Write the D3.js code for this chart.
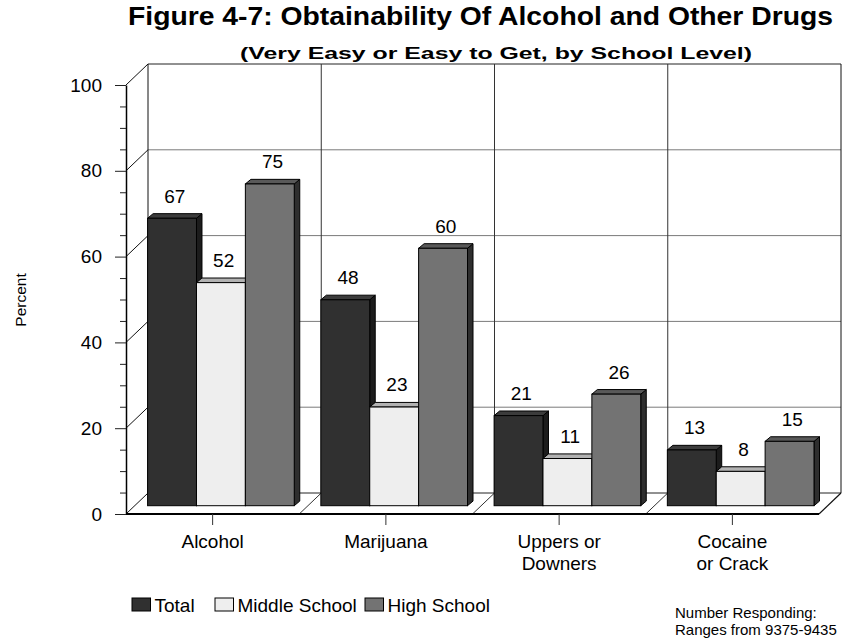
<!DOCTYPE html>
<html>
<head>
<meta charset="utf-8">
<script src="https://cdn.jsdelivr.net/npm/d3@7"></script>
<style>
  html, body { margin: 0; padding: 0; background: #fff; }
  svg { display: block; font-family: "Liberation Sans", Arial, sans-serif; }
</style>
</head>
<body>
<svg id="chart" width="846" height="639"></svg>
<script>
// ---- data ----
const categories = ["Alcohol", "Marijuana", "Uppers or\nDowners", "Cocaine\nor Crack"];
const seriesNames = ["Total", "Middle School", "High School"];
const totalValues = [67, 48, 21, 13];
const middleValues = [52, 23, 11, 8];
const highValues = [75, 60, 26, 15];
const yTicks = [0, 20, 40, 60, 80, 100];

const seriesValues = [totalValues, middleValues, highValues];

// ---- styling ----
const faceColors = [
  { front: "#303030", top: "#3c3c3c", side: "#1c1c1c" },
  { front: "#eeeeee", top: "#b2b2b2", side: "#9a9a9a" },
  { front: "#737373", top: "#595959", side: "#2e2e2e" }
];

const svg = d3.select("#chart");

// front plane of the 3D box
const x0 = 126, x1 = 819;
const yBase = 514, yTop = 85;
const depth = { dx: 22, dy: -21 };        // back wall offset
const barPlane = { dx: 8.3, dy: -8.3 };   // plane where bar fronts sit
const barDepth = { dx: 5.5, dy: -4.6 };   // bar thickness

const y = d3.scaleLinear().domain([0, 100]).range([yBase, yTop]);
const x = d3.scaleBand().domain(categories).range([x0, x1]).padding(0);

const g = svg.append("g");

// ---- floor ----
g.append("path")
  .attr("d", `M${x0},${yBase} L${x1},${yBase} L${x1 + depth.dx},${yBase + depth.dy} L${x0 + depth.dx},${yBase + depth.dy} Z`)
  .attr("fill", "#fff").attr("stroke", "none");

// floor diagonals at category boundaries
categories.forEach((c, i) => {
  if (i === 0) return;
  const bx = x(c);
  g.append("line")
    .attr("x1", bx).attr("y1", yBase)
    .attr("x2", bx + depth.dx).attr("y2", yBase + depth.dy)
    .attr("stroke", "#333").attr("stroke-width", 1);
});

// back wall horizontal grid
yTicks.forEach(t => {
  g.append("line")
    .attr("x1", x0 + depth.dx).attr("x2", x1 + depth.dx)
    .attr("y1", y(t) + depth.dy).attr("y2", y(t) + depth.dy)
    .attr("stroke", t === 0 || t === 100 ? "#222" : "#7a7a7a").attr("stroke-width", 1);
  // diagonal from axis to wall
  g.append("line")
    .attr("x1", x0).attr("y1", y(t))
    .attr("x2", x0 + depth.dx).attr("y2", y(t) + depth.dy)
    .attr("stroke", "#111").attr("stroke-width", 1);
});

// back wall vertical grid and outline
categories.concat([null]).forEach((c, i) => {
  const bx = (c === null ? x1 : x(c)) + depth.dx;
  g.append("line")
    .attr("x1", bx).attr("x2", bx)
    .attr("y1", y(100) + depth.dy).attr("y2", y(0) + depth.dy)
    .attr("stroke", i === 0 || c === null ? "#111" : "#333").attr("stroke-width", 1);
});

// right floor edge
g.append("line")
  .attr("x1", x1).attr("y1", yBase)
  .attr("x2", x1 + depth.dx).attr("y2", yBase + depth.dy)
  .attr("stroke", "#111").attr("stroke-width", 1.2);

// ---- bars ----
const inner = d3.scaleBand().domain(seriesNames).paddingOuter(0).paddingInner(0);

categories.forEach((c, ci) => {
  const bandStart = x(c) + barPlane.dx;
  const pad = 13.3;
  inner.range([bandStart + pad, bandStart + x.bandwidth() - pad]);
  seriesNames.forEach((s, si) => {
    const v = seriesValues[si][ci];
    const bx = inner(s);
    const bw = inner.bandwidth();
    const by = y(v) + barPlane.dy;
    const bb = y(0) + barPlane.dy;
    const col = faceColors[si];
    const bar = g.append("g");
    // side face
    bar.append("path")
      .attr("d", `M${bx + bw},${bb} L${bx + bw + barDepth.dx},${bb + barDepth.dy} L${bx + bw + barDepth.dx},${by + barDepth.dy} L${bx + bw},${by} Z`)
      .attr("fill", col.side).attr("stroke", "#000").attr("stroke-width", 1).attr("stroke-linejoin", "round");
    // top face
    bar.append("path")
      .attr("d", `M${bx},${by} L${bx + barDepth.dx},${by + barDepth.dy} L${bx + bw + barDepth.dx},${by + barDepth.dy} L${bx + bw},${by} Z`)
      .attr("fill", col.top).attr("stroke", "#000").attr("stroke-width", 1).attr("stroke-linejoin", "round");
    // front face
    bar.append("rect")
      .attr("x", bx).attr("y", by).attr("width", bw).attr("height", bb - by)
      .attr("fill", col.front).attr("stroke", "#000").attr("stroke-width", 1);
    // value label
    g.append("text")
      .attr("x", bx + bw / 2 + barDepth.dx / 2)
      .attr("y", by + barDepth.dy - 11)
      .attr("text-anchor", "middle")
      .attr("font-size", 19)
      .attr("fill", "#000")
      .text(v);
  });
});

// ---- front floor edge and y axis ----
g.append("line")
  .attr("x1", x0).attr("x2", x1).attr("y1", yBase).attr("y2", yBase)
  .attr("stroke", "#000").attr("stroke-width", 2);

const yAxis = d3.axisLeft(y)
  .tickValues(d3.range(0, 101, 5))
  .tickSizeOuter(0)
  .tickFormat(d => yTicks.includes(d) ? d : "");
const ya = svg.append("g").attr("transform", `translate(${x0},0)`).call(yAxis);
ya.select(".domain").attr("stroke", "#000").attr("stroke-width", 1.5);
ya.selectAll(".tick line")
  .attr("x2", d => yTicks.includes(d) ? -11 : -6)
  .attr("stroke", "#222");
ya.selectAll(".tick text")
  .attr("x", -24)
  .attr("font-size", 19)
  .attr("font-family", "Liberation Sans, Arial, sans-serif")
  .attr("fill", "#000");

// category ticks and labels
const xa = svg.append("g");
categories.forEach(c => {
  const cx = x(c) + x.bandwidth() / 2;
  xa.append("line")
    .attr("x1", cx).attr("x2", cx).attr("y1", yBase).attr("y2", yBase + 11)
    .attr("stroke", "#333").attr("stroke-width", 1);
  const t = xa.append("text")
    .attr("x", cx).attr("y", 548)
    .attr("text-anchor", "middle")
    .attr("font-size", 19).attr("fill", "#000");
  c.split("\n").forEach((line, li) => {
    t.append("tspan").attr("x", cx).attr("dy", li === 0 ? 0 : 21.5).text(line);
  });
});

// y axis title
svg.append("text")
  .attr("transform", "translate(26,300) rotate(-90)")
  .attr("text-anchor", "middle")
  .attr("font-size", 15.5).attr("fill", "#000")
  .text("Percent");

// ---- titles ----
svg.append("text")
  .attr("x", 128).attr("y", 25)
  .attr("font-size", 25.5).attr("font-weight", "bold").attr("fill", "#000")
  .attr("textLength", 705).attr("lengthAdjust", "spacingAndGlyphs")
  .text("Figure 4-7: Obtainability Of Alcohol and Other Drugs");

svg.append("text")
  .attr("x", 240).attr("y", 59)
  .attr("font-size", 16.3).attr("font-weight", "bold").attr("fill", "#000")
  .attr("textLength", 512).attr("lengthAdjust", "spacingAndGlyphs")
  .text("(Very Easy or Easy to Get, by School Level)");

// ---- legend ----
const legendX = [132, 215, 365];
const legend = svg.append("g");
seriesNames.forEach((s, i) => {
  legend.append("rect")
    .attr("x", legendX[i]).attr("y", 598).attr("width", 18.5).attr("height", 13)
    .attr("fill", faceColors[i].front).attr("stroke", "#000").attr("stroke-width", 1);
  legend.append("text")
    .attr("x", legendX[i] + 22.5).attr("y", 611.5)
    .attr("font-size", 19).attr("fill", "#000")
    .text(s);
});

// ---- footnote ----
svg.append("text")
  .attr("x", 675).attr("y", 618)
  .attr("font-size", 15).attr("fill", "#000")
  .text("Number Responding:");
svg.append("text")
  .attr("x", 675).attr("y", 635)
  .attr("font-size", 15).attr("fill", "#000")
  .text("Ranges from 9375-9435");
</script>
</body>
</html>
